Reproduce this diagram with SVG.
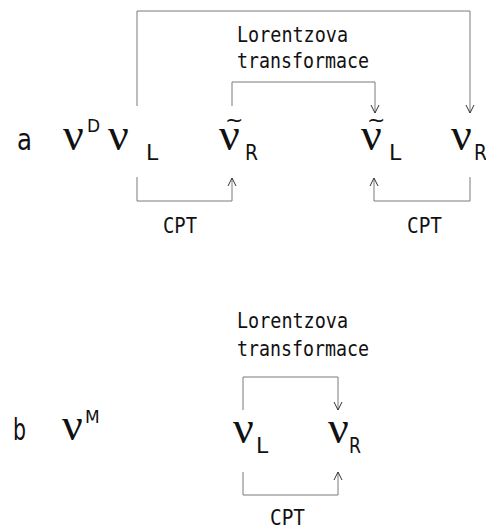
<svg xmlns="http://www.w3.org/2000/svg" width="486" height="526" viewBox="0 0 486 526">
<defs>
<style>
.bg{fill:#fff}
.ln{fill:none;stroke:#7a7a7a;stroke-width:1}
.ah{fill:none;stroke:#333;stroke-width:1}
.lbl{font-family:"DejaVu Sans Mono","Liberation Mono",monospace;font-size:21px;fill:#111}
.nu{font-family:"Liberation Serif","DejaVu Serif",serif;font-size:46px;fill:#111}
.sub{font-family:"DejaVu Sans","Liberation Sans",sans-serif;font-size:22px;fill:#111}
.sup{font-family:"DejaVu Sans","Liberation Sans",sans-serif;font-size:17px;fill:#111}
.big{font-family:"DejaVu Sans","Liberation Sans",sans-serif;font-size:31px;fill:#111}
.til{font-family:"DejaVu Sans","Liberation Sans",sans-serif;font-size:22px;fill:#111}
</style>
</defs>
<rect class="bg" x="0" y="0" width="486" height="526"/>
<g id="connectors">
<path class="ln" d="M137,106 V11 H470 V113"/>
<path class="ln" d="M232,106 V82 H375 V113"/>
<path class="ln" d="M137,177 V201 H232 V178"/>
<path class="ln" d="M470,177 V201 H374 V178"/>
<path class="ln" d="M243,410 V377 H338 V410"/>
<path class="ln" d="M243,472 V495 H338 V472"/>
<path class="ah" d="M466,105 L470,113 L474,105"/>
<path class="ah" d="M371,105 L375,113 L379,105"/>
<path class="ah" d="M228,186 L232,178 L236,186"/>
<path class="ah" d="M370,186 L374,178 L378,186"/>
<path class="ah" d="M334,402 L338,410 L342,402"/>
<path class="ah" d="M334,480 L338,472 L342,480"/>
</g>
<g id="label-a"><text class="big" x="17" y="150" textLength="15" lengthAdjust="spacingAndGlyphs">a</text></g>
<g id="nu-D"><text class="nu" x="63" y="150">ν</text><text class="sup" x="87" y="132">D</text></g>
<g id="nu-L"><text class="nu" x="108" y="150">ν</text><text class="sub" x="146" y="160">L</text></g>
<g id="nu-R-tilde"><text class="til" x="225" y="127">~</text><text class="nu" x="219" y="150">ν</text><text class="sub" x="245" y="160" textLength="13" lengthAdjust="spacingAndGlyphs">R</text></g>
<g id="nu-L-tilde"><text class="til" x="367" y="127">~</text><text class="nu" x="361" y="150">ν</text><text class="sub" x="389" y="160">L</text></g>
<g id="nu-R"><text class="nu" x="451" y="150">ν</text><text class="sub" x="474" y="160" textLength="13" lengthAdjust="spacingAndGlyphs">R</text></g>
<g id="lorentz-a"><text class="lbl" x="237" y="42" textLength="111" lengthAdjust="spacingAndGlyphs">Lorentzova</text><text class="lbl" x="237" y="68" textLength="132" lengthAdjust="spacingAndGlyphs">transformace</text></g>
<g id="cpt-a1"><text class="lbl" x="163" y="233" textLength="34" lengthAdjust="spacingAndGlyphs">CPT</text></g>
<g id="cpt-a2"><text class="lbl" x="407" y="233" textLength="35" lengthAdjust="spacingAndGlyphs">CPT</text></g>
<g id="label-b"><text class="big" x="13" y="440" textLength="13" lengthAdjust="spacingAndGlyphs">b</text></g>
<g id="nu-M"><text class="nu" x="62" y="440">ν</text><text class="sup" x="85" y="423">M</text></g>
<g id="nu-L-b"><text class="nu" x="233" y="443">ν</text><text class="sub" x="256" y="453">L</text></g>
<g id="nu-R-b"><text class="nu" x="328" y="443">ν</text><text class="sub" x="349" y="453" textLength="12" lengthAdjust="spacingAndGlyphs">R</text></g>
<g id="lorentz-b"><text class="lbl" x="237" y="328" textLength="111" lengthAdjust="spacingAndGlyphs">Lorentzova</text><text class="lbl" x="237" y="356" textLength="132" lengthAdjust="spacingAndGlyphs">transformace</text></g>
<g id="cpt-b"><text class="lbl" x="270" y="525" textLength="35" lengthAdjust="spacingAndGlyphs">CPT</text></g>
</svg>
